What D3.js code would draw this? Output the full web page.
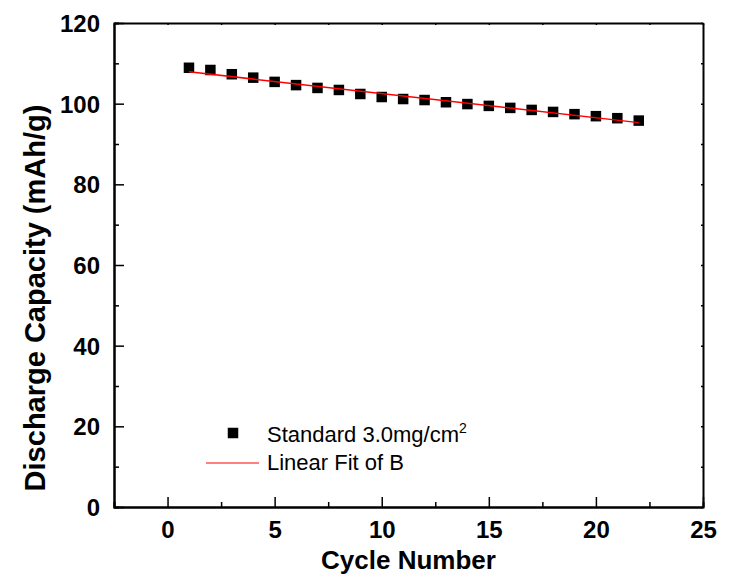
<meta charset="utf-8">
<title>Discharge Capacity</title>
<script src="https://d3js.org/d3.v7.min.js"></script>
<style>
  body { margin: 0; background: #fff; }
  text { font-family: Arial, "Liberation Sans", sans-serif; }
</style>
<body>
<svg width="732" height="577"></svg>
<script>

  // cycle number vs discharge capacity
  const cycles = [1, 2, 3, 4, 5, 6, 7, 8, 9, 10, 11, 12, 13, 14, 15, 16, 17, 18, 19, 20, 21, 22]
  const capacity = [108.9, 108.35, 107.3, 106.45, 105.4, 104.6, 103.9, 103.4, 102.4, 101.65,
                    101.15, 100.9, 100.35, 99.9, 99.45, 98.95, 98.45, 97.95, 97.4, 96.9, 96.4, 95.8]

  // linear fit endpoints
  const fitX = [1, 22]
  const fitY = [107.9, 95.3]

  const xTicks = [0, 5, 10, 15, 20, 25]
  const yTicks = [0, 20, 40, 60, 80, 100, 120]

  const svg = d3.select('svg')

  const
    x = d3.scaleLinear().domain([-2.5, 25]).range([114, 703]),
    y = d3.scaleLinear().domain([0, 120]).range([507, 23])

  const frame = svg.append('g')

  // bottom axis
  const bottom = frame.append('g').attr('transform', 'translate(0,507)')
  bottom.call(d3.axisBottom(x).tickValues(xTicks).tickSize(-10).tickSizeOuter(0).tickPadding(14))
  bottom.append('g')
    .call(d3.axisBottom(x).tickValues(d3.range(-2.5, 25, 2.5).filter(v => v % 5 !== 0)).tickSize(-5).tickFormat(''))

  // left axis
  const left = frame.append('g').attr('transform', 'translate(114,0)')
  left.call(d3.axisLeft(y).tickValues(yTicks).tickSize(-10).tickSizeOuter(0).tickPadding(14))
  left.append('g')
    .call(d3.axisLeft(y).tickValues(d3.range(10, 120, 20)).tickSize(-5).tickFormat(''))

  // top and right axes with tiny ticks
  frame.append('g').attr('transform', 'translate(0,23)')
    .call(d3.axisTop(x).tickValues(d3.range(-2.5, 25.1, 2.5)).tickSize(-2).tickSizeOuter(0).tickFormat(''))
  frame.append('g').attr('transform', 'translate(703,0)')
    .call(d3.axisRight(y).tickValues(d3.range(0, 121, 10)).tickSize(-2).tickSizeOuter(0).tickFormat(''))

  frame.selectAll('.domain').attr('stroke', '#000').attr('stroke-width', 2)
  frame.selectAll('.tick line').attr('stroke', '#000').attr('stroke-width', 1.5)
  frame.selectAll('.tick text')
    .attr('fill', '#000')
    .style('font-size', '24px')
    .style('font-weight', 'bold')
  left.selectAll('.tick text').attr('dy', '0.35em')

  // data squares
  const sq = 10.5
  svg.append('g').selectAll('rect')
    .data(cycles)
    .join('rect')
    .attr('x', (d, i) => x(d) - sq / 2)
    .attr('y', (d, i) => y(capacity[i]) - sq / 2)
    .attr('width', sq)
    .attr('height', sq)
    .attr('fill', '#000')

  // fit line
  svg.append('path')
    .datum(fitX.map((d, i) => [d, fitY[i]]))
    .attr('fill', 'none')
    .attr('stroke', '#ff0000')
    .attr('stroke-width', 1.5)
    .attr('d', d3.line().x(d => x(d[0])).y(d => y(d[1])))

  // axis titles
  svg.append('text')
    .attr('x', 408.5).attr('y', 569)
    .attr('text-anchor', 'middle')
    .style('font-size', '26px').style('font-weight', 'bold')
    .text('Cycle Number')

  svg.append('text')
    .attr('transform', 'translate(45,298) rotate(-90)')
    .attr('text-anchor', 'middle')
    .style('font-size', '29px').style('font-weight', 'bold')
    .text('Discharge Capacity (mAh/g)')

  // legend
  const legend = svg.append('g')
  legend.append('rect')
    .attr('x', 233 - sq / 2).attr('y', 433 - sq / 2)
    .attr('width', sq).attr('height', sq)
    .attr('fill', '#000')
  const t1 = legend.append('text')
    .attr('x', 267).attr('y', 442)
    .style('font-size', '22px')
    .text('Standard 3.0mg/cm')
  t1.append('tspan').attr('dy', -9).style('font-size', '14px').text('2')

  legend.append('line')
    .attr('x1', 206).attr('x2', 259)
    .attr('y1', 463).attr('y2', 463)
    .attr('stroke', '#ff0000').attr('stroke-width', 1)
  legend.append('text')
    .attr('x', 267).attr('y', 470)
    .style('font-size', '22px')
    .text('Linear Fit of B')

</script>
</body>
